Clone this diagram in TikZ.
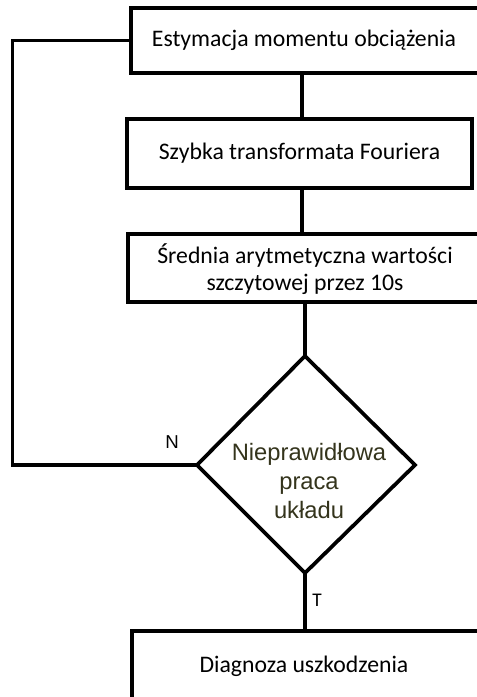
\documentclass[tikz,border=0pt]{standalone}
\usepackage{fontspec}
\setmainfont{Carlito}
\newfontfamily\arialf{Liberation Sans}
\definecolor{olive}{RGB}{52,52,28}
\begin{document}
\begin{tikzpicture}[x=0.75pt,y=-0.75pt,
  box/.style={draw=black,line width=2.8pt,fill=white,rectangle,inner sep=0pt,
    align=center,font=\fontsize{17.8}{20}\selectfont},
  txt/.style={inner sep=0pt,align=center,font=\fontsize{17.8}{20}\selectfont},
  conn/.style={draw=black,line width=2.8pt},
  lbl/.style={inner sep=0pt}]
\useasboundingbox (0,0) rectangle (476,697);
\fill[white] (0,0) rectangle (476,697);
% right edge of the picture (boxes run past it)
\coordinate (edge) at (480,0);
% boxes cut by the right edge: left, top and bottom sides only
\coordinate (b1nw) at (131,8);
\coordinate (b1sw) at (131,73);
\coordinate (b3nw) at (128,234);
\coordinate (b3sw) at (128,302);
\coordinate (b5nw) at (132,631);
\coordinate (b5sw) at (132,701);
\draw[conn,line join=miter] (b1nw -| edge) -- (b1nw) -- (b1sw) -- (b1sw -| edge);
\draw[conn,line join=miter] (b3nw -| edge) -- (b3nw) -- (b3sw) -- (b3sw -| edge);
\draw[conn,line join=miter] (b5nw -| edge) -- (b5nw) -- (b5sw) -- (b5sw -| edge);
\node[txt] (b1) at (304,40.5) {Estymacja momentu obciążenia};
\node[box,minimum width=258.75pt,minimum height=51.5pt] (b2) at (299.5,153.5) {Szybka transformata Fouriera};
\node[txt] (b3) at (305,269) {Średnia arytmetyczna wartości\\szczytowej przez 10s};
\node[txt] (b5) at (304,666) {Diagnoza uszkodzenia};
% diamond
\coordinate (dt) at (305,356);
\coordinate (dl) at (197,465);
\coordinate (dr) at (415,465);
\coordinate (db) at (305,573);
\draw[conn,line join=miter] (dt) -- (dr) -- (db) -- (dl) -- cycle;
\node[lbl,align=center,text=olive,font=\arialf\fontsize{17.8}{21.5}\selectfont] (dtext) at (309,481) {Nieprawidłowa\\praca\\układu};
% connectors
\coordinate (x1) at (302,0);
\coordinate (x2) at (305,0);
\draw[conn] (b1sw -| x1) -- (b2.north -| x1);
\draw[conn] (b2.south -| x1) -- (b3nw -| x1);
\draw[conn] (b3sw -| x2) -- (dt);
\draw[conn] (db) -- (b5nw -| x2);
\coordinate (lc) at (12.5,465);
\draw[conn,line join=miter] (dl) -- (lc) |- (b1nw |- b1);
\node[lbl,font=\arialf\fontsize{14}{16}\selectfont] (n) at (172,442) {N};
\node[lbl,font=\fontsize{14.5}{16}\selectfont] (t) at (317,600) {T};
\end{tikzpicture}
\end{document}
